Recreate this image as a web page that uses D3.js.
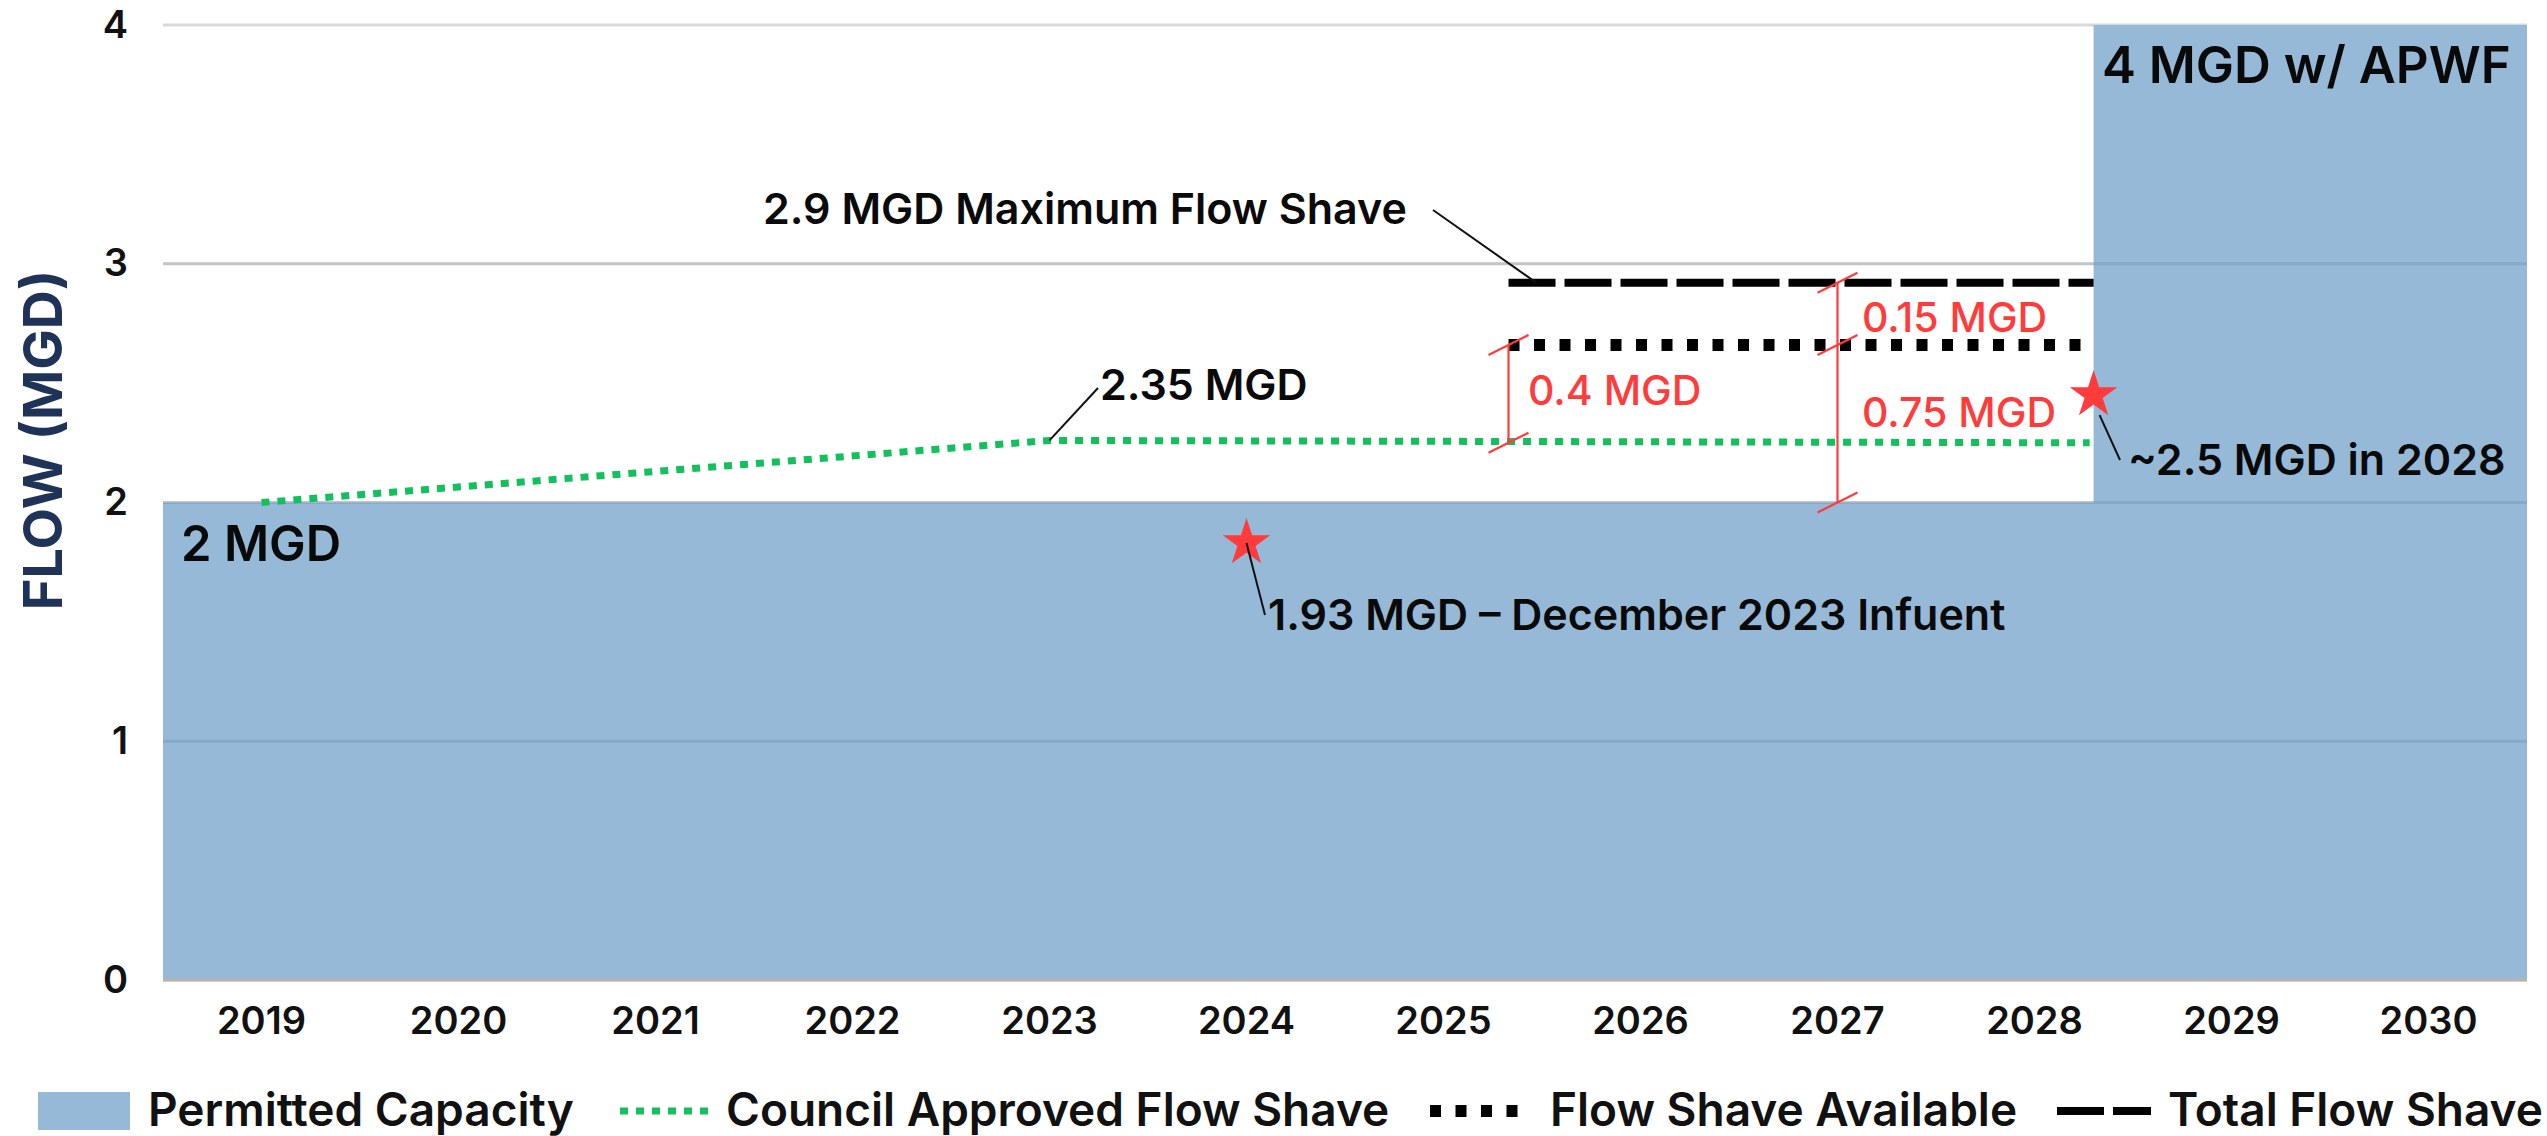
<!DOCTYPE html>
<html>
<head>
<meta charset="utf-8">
<script src="https://cdn.jsdelivr.net/npm/d3@7"></script>
<style>
  body { margin: 0; background: #fff; }
  text { font-family: Inter, "Open Sans", sans-serif; }
</style>
</head>
<body>
<div class="vis-flow"></div>
<script>
// ---- data ----
const years = [2019, 2020, 2021, 2022, 2023, 2024, 2025, 2026, 2027, 2028, 2029, 2030];
const yTicks = [0, 1, 2, 3, 4];

// permitted capacity (step), x in years
const capacityYears = [2018.5, 2028.3, 2030.5];
const capacityFlow = [2, 4, 4];

const councilYears = [2019, 2023, 2028.28];
const councilFlow = [2.0, 2.26, 2.25];

const availableYears = [2025.33, 2028.3];
const availableFlow = [2.66, 2.66];

const totalYears = [2025.33, 2028.3];
const totalFlow = [2.92, 2.92];

const starYears = [2024, 2028.3];
const starFlow = [1.83, 2.45];

const seriesNames = ["Permitted Capacity", "Council Approved Flow Shave", "Flow Shave Available", "Total Flow Shave"];

const draw = () => {
  const W = 2547, H = 1136;
  const left = 163, right = 2527, top = 25, bottom = 980;

  const svg = d3.select(".vis-flow").append("svg")
    .attr("width", W).attr("height", H);

  const x = d3.scaleLinear().domain([2018.5, 2030.5]).range([left, right]);
  const xBand = d3.scaleBand().domain(years).range([left, right]);
  const y = d3.scaleLinear().domain([0, 4]).range([bottom, top]);

  const blue = "#96b9d8", green = "#12c05c", red = "#ff3b3b";

  // gridlines behind everything
  svg.append("g").selectAll("line").data(yTicks).enter().append("line")
    .attr("x1", left).attr("x2", right)
    .attr("y1", d => y(d)).attr("y2", d => y(d))
    .attr("stroke", "#d9d9d9").attr("stroke-width", 3);

  // permitted capacity area
  const capData = capacityYears.map((yr, i) => ({ yr, v: capacityFlow[i] }));
  svg.append("path").datum(capData)
    .attr("fill", blue)
    .attr("d", d3.area().curve(d3.curveStepAfter)
      .x(d => x(d.yr)).y0(y(0)).y1(d => y(d.v)));

  // gridlines over the area
  svg.append("g").selectAll("line").data(yTicks.filter(d => d > 0 && d < 4)).enter().append("line")
    .attr("x1", left).attr("x2", right)
    .attr("y1", d => y(d)).attr("y2", d => y(d))
    .attr("stroke", "rgba(40,60,90,0.13)").attr("stroke-width", 3);
  svg.append("line").attr("x1", left).attr("x2", right)
    .attr("y1", y(0)).attr("y2", y(0))
    .attr("stroke", "#b4b4b4").attr("stroke-width", 3);

  // axes
  const yAxis = svg.append("g").attr("transform", `translate(${left},0)`)
    .call(d3.axisLeft(y).tickValues(yTicks).tickFormat(d3.format("d")).tickSize(0).tickPadding(35));
  yAxis.select(".domain").remove();
  yAxis.selectAll("text").attr("font-size", 38).attr("font-weight", 600)
    .attr("fill", "#111").attr("font-family", "Inter");

  const xAxis = svg.append("g").attr("transform", `translate(0,${bottom})`)
    .call(d3.axisBottom(xBand).tickSize(0).tickPadding(27));
  xAxis.select(".domain").remove();
  xAxis.selectAll("text").attr("font-size", 38).attr("font-weight", 600)
    .attr("fill", "#111").attr("font-family", "Inter");

  svg.append("text")
    .attr("transform", `translate(62,440) rotate(-90)`)
    .attr("text-anchor", "middle")
    .attr("font-size", 54).attr("font-weight", 700)
    .attr("fill", "#1f3258")
    .text("FLOW (MGD)");

  const line = d3.line().x(d => x(d.yr)).y(d => y(d.v));
  const pts = (xs, vs) => xs.map((yr, i) => ({ yr, v: vs[i] }));

  svg.append("path").datum(pts(councilYears, councilFlow))
    .attr("fill", "none").attr("stroke", green)
    .attr("stroke-width", 7).attr("stroke-dasharray", "8,8")
    .attr("d", line);
  svg.append("path").datum(pts(availableYears, availableFlow))
    .attr("fill", "none").attr("stroke", "#000")
    .attr("stroke-width", 12).attr("stroke-dasharray", "11,14.5")
    .attr("d", line);
  svg.append("path").datum(pts(totalYears, totalFlow))
    .attr("fill", "none").attr("stroke", "#000")
    .attr("stroke-width", 8).attr("stroke-dasharray", "47,9")
    .attr("d", line);

  // red dimension brackets
  const bracket = (yr, vals) => {
    const g = svg.append("g").attr("stroke", red).attr("stroke-width", 2.2);
    g.append("line").attr("x1", x(yr)).attr("x2", x(yr))
      .attr("y1", y(d3.max(vals))).attr("y2", y(d3.min(vals)));
    vals.forEach(v => {
      g.append("line")
        .attr("x1", x(yr) - 20).attr("y1", y(v) + 10)
        .attr("x2", x(yr) + 20).attr("y2", y(v) - 10);
    });
  };
  bracket(availableYears[0], [availableFlow[0], councilFlow[2]]);
  bracket(2027, [totalFlow[0], availableFlow[0], capacityFlow[0]]);

  const redText = (tx, ty, s) => svg.append("text")
    .attr("x", tx).attr("y", ty).attr("fill", red)
    .attr("font-size", 41).attr("font-weight", 500).text(s);
  redText(1862, 332, "0.15 MGD");
  redText(1528, 405, "0.4 MGD");
  redText(1862, 427, "0.75 MGD");

  // stars
  const starPts = pts(starYears, starFlow);
  svg.selectAll(".star").data(starPts).enter().append("path")
    .attr("class", "star")
    .attr("transform", d => `translate(${x(d.yr)},${y(d.v)})`)
    .attr("d", d3.symbol(d3.symbolStar, 700))
    .attr("fill", red);

  // black annotations with leaders
  const note = (s, tx, ty, size, weight, lx1, ly1, lx2, ly2) => {
    if (lx1 !== undefined) {
      svg.append("line").attr("x1", lx1).attr("y1", ly1).attr("x2", lx2).attr("y2", ly2)
        .attr("stroke", "#111").attr("stroke-width", 2);
    }
    svg.append("text").attr("x", tx).attr("y", ty)
      .attr("font-size", size).attr("font-weight", weight)
      .attr("fill", "#0a0a0a").text(s);
  };
  note("2.9 MGD Maximum Flow Shave", 763, 224, 43, 600,
    1433, 210, x(totalYears[0]) + 28, y(totalFlow[0]));
  note("2.35 MGD", 1100, 400, 43, 600,
    1098, 388, x(councilYears[1]), y(councilFlow[1]));
  note("1.93 MGD – December 2023 Infuent", 1268, 630, 43, 600,
    x(starYears[0]), y(starFlow[0]), 1265, 615);
  note("~2.5 MGD in 2028", 2128, 475, 43, 600,
    x(starYears[1]) + 6, y(starFlow[1]) + 20, 2120, 460);
  note("2 MGD", 181, 561, 49, 600);
  note("4 MGD w/ APWF", 2102, 83, 51, 600);

  // legend
  const lg = svg.append("g");
  const ly = 1111;
  lg.append("rect").attr("x", 38).attr("y", 1092).attr("width", 92).attr("height", 38).attr("fill", blue);
  lg.append("line").attr("x1", 620).attr("x2", 708).attr("y1", ly).attr("y2", ly)
    .attr("stroke", green).attr("stroke-width", 7).attr("stroke-dasharray", "8,8");
  lg.append("line").attr("x1", 1430).attr("x2", 1520).attr("y1", ly).attr("y2", ly)
    .attr("stroke", "#000").attr("stroke-width", 12).attr("stroke-dasharray", "11,14.5");
  lg.append("line").attr("x1", 2057).attr("x2", 2151).attr("y1", ly).attr("y2", ly)
    .attr("stroke", "#000").attr("stroke-width", 8).attr("stroke-dasharray", "47,9");
  const legendX = [148, 726, 1550, 2168];
  lg.selectAll("text").data(seriesNames).enter().append("text")
    .attr("x", (d, i) => legendX[i]).attr("y", 1126)
    .attr("font-size", 46).attr("font-weight", 600).attr("fill", "#111")
    .text(d => d);
};

draw();
</script>
</body>
</html>
